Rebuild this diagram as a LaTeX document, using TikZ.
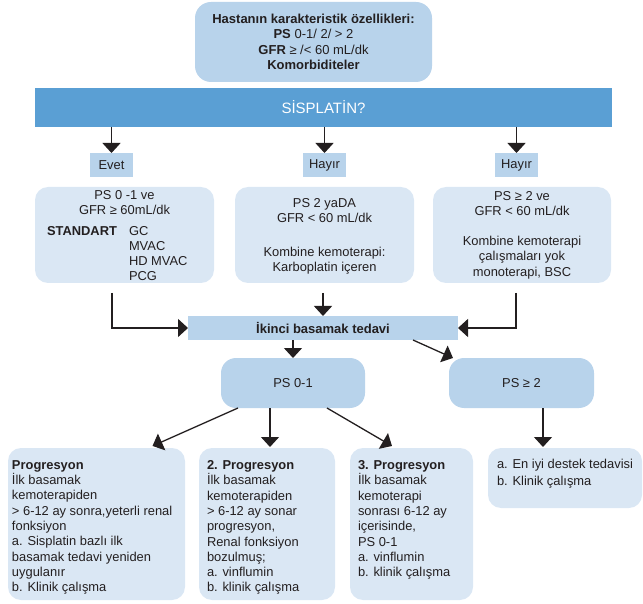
\documentclass[tikz,border=0pt]{standalone}
\usepackage{fontspec}
\setmainfont{Liberation Sans}
\usetikzlibrary{arrows.meta,calc}
\definecolor{barblue}{HTML}{5A9FD4}
\definecolor{midblue}{HTML}{B8D3EB}
\definecolor{paleblue}{HTML}{DAE7F4}
\definecolor{ink}{HTML}{231F20}
\begin{document}
\begin{tikzpicture}[x=1pt,y=-1pt,
  every node/.style={inner sep=0pt,outer sep=0pt,text=ink,
    font=\fontsize{12.9}{15.3}\selectfont},
  panel/.style={fill=#1,rounded corners=13pt},
  midpanel/.style={panel=midblue},
  palepanel/.style={panel=paleblue},
  tag/.style={fill=midblue,minimum width=43pt,minimum height=24pt},
  txt/.style={align=center,anchor=north},
  ltxt/.style={align=left,anchor=north west},
  arr/.style={draw=ink,line width=1.3pt,-{Triangle[width=18pt,length=10pt]}},
  ln/.style={draw=ink,line width=1.3pt}]
\useasboundingbox (0,0) rectangle (643,604);

% patient characteristics
\node[midpanel,rounded corners=16pt,minimum width=237pt,minimum height=80pt] (top) at (313.5,42) {};
\node[txt,font=\fontsize{13}{15.3}\selectfont] (toptext) at (313.5,14)
  {\bfseries Hastanın karakteristik özellikleri:\\
   {\bfseries PS} 0-1/ 2/ > 2\\
   {\bfseries GFR} ≥ /< 60 mL/dk\\
   \bfseries Komorbiditeler};

% cisplatin question bar
\node[fill=barblue,minimum width=577pt,minimum height=39pt,text=white,
  font=\fontsize{15}{18}\selectfont] (bar) at (323.5,107.5) {SİSPLATİN?};

% answers
\node[tag] (evet) at (111.5,165) {Evet};
\node[tag] (hayir1) at (324.5,165) {Hayır};
\node[tag] (hayir2) at (516.5,165) {Hayır};
\draw[arr] (bar.south -| evet) -- (evet.north);
\draw[arr] (bar.south -| hayir1) -- (hayir1.north);
\draw[arr] (bar.south -| hayir2) -- (hayir2.north);

% first-line groups
\node[palepanel,minimum width=179pt,minimum height=96pt] (g1) at (124.5,235) {};
\node[palepanel,minimum width=179pt,minimum height=96pt] (g2) at (324.5,235) {};
\node[palepanel,minimum width=178pt,minimum height=96pt] (g3) at (522,235) {};

\node[txt,font=\fontsize{12.9}{15.8}\selectfont] (g1text) at (124.5,190) {PS 0 -1 ve\\GFR ≥ 60mL/dk};
\node[anchor=west,font=\bfseries\fontsize{12.9}{15.3}\selectfont] (std) at (47,231) {STANDART};
\node[ltxt] (stdlist) at (129,226) {GC\\MVAC\\HD MVAC\\PCG};

\node[txt] (g2text) at (324.5,198) {PS 2 yaDA\\GFR < 60 mL/dk\\[19pt]Kombine kemoterapi:\\Karboplatin içeren};
\node[txt] (g3text) at (522,191) {PS ≥ 2 ve\\GFR < 60 mL/dk\\[15pt]Kombine kemoterapi\\çalışmaları yok\\monoterapi, BSC};

% second line
\node[fill=midblue,minimum width=270pt,minimum height=24pt,
  font=\bfseries\fontsize{13}{15}\selectfont] (second) at (323,328) {İkinci basamak tedavi};

\coordinate (c1) at (112,293);
\coordinate (c2) at (323,293);
\coordinate (c3) at (516,293);
\draw[arr] (c1) |- (second.west);
\draw[arr] (c2) -- (c2 |- second.north);
\draw[arr] (c3) |- (second.east);

% performance status
\node[midpanel,rounded corners=15pt,minimum width=144pt,minimum height=50pt] (ps01) at (293,383) {PS 0-1};
\node[midpanel,rounded corners=15pt,minimum width=145pt,minimum height=50pt] (ps2) at (521.5,383) {PS ≥ 2};
\draw[arr] (second.south -| ps01) -- (ps01.north);
\coordinate (d1) at (413,340);
\draw[arr] (d1) -- ($(ps2.north west)+(4,0)$);

% later-line options
\node[palepanel,minimum width=177pt,minimum height=152pt] (pa) at (96.5,524) {};
\node[palepanel,minimum width=136pt,minimum height=152pt] (pb) at (267,524) {};
\node[palepanel,minimum width=123pt,minimum height=152pt] (pc) at (411.5,524) {};
\node[palepanel,minimum width=154pt,minimum height=60pt] (pd) at (565,478) {};

\draw[arr] ($(ps01.south)+(-55,0)$) -- ($(pa.north)+(56,-2)$);
\coordinate (s2) at ($(ps01.south)+(-23,0)$);
\draw[arr] (s2) -- ($(s2 |- pb.north)+(0,-1)$);
\draw[arr] ($(ps01.south)+(34,0)$) -- ($(pc.north)+(-19.5,-2)$);
\coordinate (s4) at ($(ps2.south)+(21.5,0)$);
\draw[arr] (s4) -- ($(s4 |- pd.north)+(0,-1)$);

\node[ltxt] (patext) at (12,460.5)
  {\textbf{Progresyon}\\İlk basamak\\kemoterapiden\\> 6-12 ay sonra,yeterli renal\\fonksiyon\\a. Sisplatin bazlı ilk\\basamak tedavi yeniden\\uygulanır\\b. Klinik çalışma};
\node[ltxt] (pbtext) at (207,460.5)
  {\textbf{2. Progresyon}\\İlk basamak\\kemoterapiden\\> 6-12 ay sonar\\progresyon,\\Renal fonksiyon\\bozulmuş;\\a. vinflumin\\b. klinik çalışma};
\node[ltxt] (pctext) at (358,460.5)
  {\textbf{3. Progresyon}\\İlk basamak\\kemoterapi\\sonrası 6-12 ay\\içerisinde,\\PS 0-1\\a. vinflumin\\b. klinik çalışma};
\node[ltxt,font=\fontsize{12.9}{16.5}\selectfont] (pdtext) at (497,459.5)
  {a. En iyi destek tedavisi\\b. Klinik çalışma};
\end{tikzpicture}
\end{document}
